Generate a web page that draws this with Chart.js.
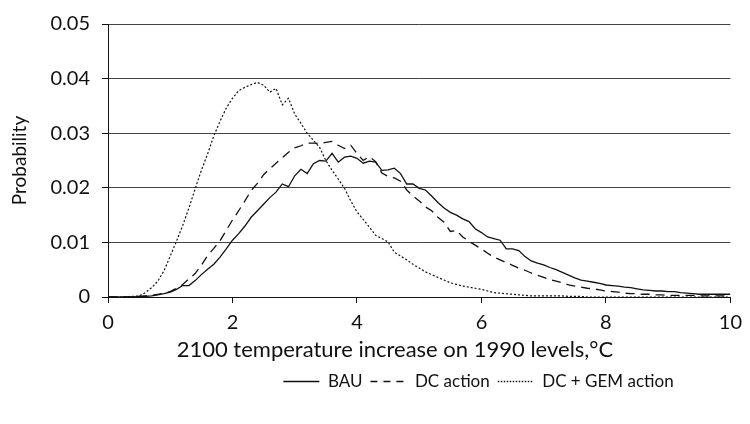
<!DOCTYPE html>
<html>
<head>
<meta charset="utf-8">
<script src="https://cdn.jsdelivr.net/npm/chart.js@4.4.1/dist/chart.umd.min.js"></script>
<style>
  html, body { margin: 0; padding: 0; background: #fff; }
  #wrap { width: 750px; height: 424px; }
</style>
</head>
<body>
<div id="wrap"><canvas id="chart" width="750" height="424"></canvas></div>
<script>
// temperature increase (deg C), one sample every 0.1
var temps = [];
for (var i = 0; i <= 100; i++) temps.push(i / 10);

var bau = [
  0, 0, 0, 0, 0, 0.0001, 0.0001, 0.0002, 0.0004, 0.0006,
  0.0009, 0.0014, 0.0021, 0.0021, 0.0030, 0.0041, 0.0051, 0.0060, 0.0073, 0.0088,
  0.0104, 0.0116, 0.0130, 0.0146, 0.0158, 0.0170, 0.0182, 0.0192, 0.0207, 0.0202,
  0.0222, 0.0234, 0.0226, 0.0244, 0.0250, 0.0249, 0.0263, 0.0247, 0.0256, 0.0258,
  0.0254, 0.0245, 0.0249, 0.0247, 0.0232, 0.0233, 0.0236, 0.0226, 0.0207, 0.0207,
  0.0199, 0.0196, 0.0185, 0.0173, 0.0163, 0.0155, 0.0150, 0.0143, 0.0138, 0.0125,
  0.0118, 0.0110, 0.0107, 0.0104, 0.0088, 0.0088, 0.0085, 0.0074, 0.0066, 0.0062,
  0.0059, 0.0054, 0.0050, 0.0045, 0.0040, 0.0035, 0.0031, 0.0029, 0.0027, 0.0025,
  0.0022, 0.0021, 0.0020, 0.0018, 0.0017, 0.0015, 0.0013, 0.0012, 0.0011, 0.0011,
  0.0010, 0.0010, 0.0008, 0.0007, 0.0006, 0.0005, 0.0005, 0.0005, 0.0005, 0.0005,
  0.0005
];

var dcAction = [
  0, 0, 0, 0, 0, 0.0001, 0.0002, 0.0003, 0.0005, 0.0007,
  0.0010, 0.0016, 0.0023, 0.0033, 0.0043, 0.0058, 0.0076, 0.0089, 0.0103, 0.0122,
  0.0141, 0.0158, 0.0176, 0.0195, 0.0208, 0.0224, 0.0235, 0.0245, 0.0255, 0.0265,
  0.0273, 0.0277, 0.0282, 0.0282, 0.0281, 0.0283, 0.0285, 0.0278, 0.0272, 0.0278,
  0.0263, 0.0250, 0.0257, 0.0248, 0.0227, 0.0221, 0.0218, 0.0212, 0.0196, 0.0185,
  0.0176, 0.0165, 0.0158, 0.0146, 0.0137, 0.0120, 0.0122, 0.0110, 0.0102, 0.0095,
  0.0088, 0.0080, 0.0073, 0.0068, 0.0063, 0.0058, 0.0053, 0.0049, 0.0044, 0.0040,
  0.0036, 0.0032, 0.0029, 0.0026, 0.0022, 0.0020, 0.0018, 0.0016, 0.0015, 0.0013,
  0.0011, 0.0010, 0.0009, 0.0007, 0.0006, 0.0006, 0.0005, 0.0005, 0.0004, 0.0004,
  0.0003, 0.0003, 0.0003, 0.0003, 0.0003, 0.0002, 0.0002, 0.0002, 0.0002, 0.0002,
  0.0002
];

var dcGemAction = [
  0, 0, 0, 0, 0.0001, 0.0002, 0.0008, 0.0017, 0.0029, 0.0048,
  0.0075, 0.0102, 0.0131, 0.0163, 0.0198, 0.0232, 0.0262, 0.0295, 0.0322, 0.0346,
  0.0364, 0.0378, 0.0384, 0.0389, 0.0393, 0.0388, 0.0375, 0.0382, 0.0352, 0.0364,
  0.0335, 0.0318, 0.0300, 0.0287, 0.0274, 0.0250, 0.0232, 0.0216, 0.0199, 0.0176,
  0.0156, 0.0142, 0.0128, 0.0113, 0.0107, 0.0101, 0.0082, 0.0075, 0.0068, 0.0060,
  0.0053, 0.0046, 0.0041, 0.0036, 0.0031, 0.0026, 0.0023, 0.0020, 0.0018, 0.0016,
  0.0014, 0.0011, 0.0008, 0.0007, 0.0006, 0.0005, 0.0004, 0.0003, 0.0002, 0.0002,
  0.0002, 0.0002, 0.0002, 0.0002, 0.0001, 0.0001, 0.0001, 0, 0, 0,
  0, 0, 0, 0, 0, 0, 0, 0, 0, 0,
  0, 0, 0, 0, 0, 0, 0, 0, 0, 0,
  0
];

var xTickLabels = ['0', '2', '4', '6', '8', '10'];
var yTickLabels = ['0', '0.01', '0.02', '0.03', '0.04', '0.05'];
var xTitle = '2100 temperature increase on 1990 levels,°C';

function toPoints(values) {
  return values.map(function (v, i) { return { x: temps[i], y: v }; });
}

var family = 'Lato, "DejaVu Sans", sans-serif';
var ink = '#111';

// the x caption sits a little left of the plot centre, the legend to the right
var captionPlugin = {
  id: 'xCaption',
  afterDraw: function (chart) {
    var c = chart.ctx, a = chart.chartArea;
    c.save();
    c.font = '22px ' + family;
    c.fillStyle = ink;
    c.textAlign = 'center';
    c.textBaseline = 'middle';
    c.fillText(xTitle, a.left + (a.right - a.left) * 0.461, a.bottom + 53);
    c.restore();
  }
};

var legendShift = {
  id: 'legendShift',
  afterUpdate: function (chart) {
    var lg = chart.legend;
    lg.left += 110;
    lg.right += 110;
  }
};

var ctx = document.getElementById('chart').getContext('2d');
var chart = new Chart(ctx, {
  type: 'line',
  data: {
    datasets: [
      {
        label: 'BAU',
        data: toPoints(bau),
        borderColor: ink,
        borderWidth: 1.3
      },
      {
        label: 'DC action',
        data: toPoints(dcAction),
        borderColor: ink,
        borderWidth: 1.3,
        borderDash: [9, 6]
      },
      {
        label: 'DC + GEM action',
        data: toPoints(dcGemAction),
        borderColor: ink,
        borderWidth: 1.2,
        borderDash: [2, 2]
      }
    ]
  },
  plugins: [captionPlugin, legendShift],
  options: {
    responsive: false,
    animation: false,
    events: [],
    elements: { point: { radius: 0 }, line: { tension: 0, fill: false } },
    layout: { padding: { top: 20, right: 13, bottom: 24, left: 0 } },
    plugins: {
      tooltip: { enabled: false },
      legend: {
        position: 'bottom',
        labels: {
          color: ink,
          font: { family: family, size: 17 },
          usePointStyle: true,
          pointStyle: 'line',
          pointStyleWidth: 36,
          padding: 8,
          generateLabels: function (chart) {
            var items = Chart.defaults.plugins.legend.labels.generateLabels(chart);
            var dashes = [[], [7, 6], [1.5, 1.5]];
            items.forEach(function (item, i) {
              item.lineDash = dashes[i];
              item.lineWidth = 1.3;
              item.strokeStyle = ink;
            });
            return items;
          }
        }
      }
    },
    scales: {
      x: {
        type: 'linear',
        min: 0,
        max: 10,
        afterFit: function (scale) { scale.height = 68; },
        ticks: {
          stepSize: 2,
          color: ink,
          font: { family: family, size: 20 },
          padding: 8,
          maxRotation: 0,
          callback: function (value) { return xTickLabels[value / 2]; }
        },
        grid: { drawOnChartArea: false, drawTicks: true, tickLength: 6, color: ink },
        border: { color: ink, width: 1 }
      },
      y: {
        min: 0,
        max: 0.05,
        afterFit: function (scale) { scale.width = 108; },
        ticks: {
          stepSize: 0.01,
          color: ink,
          font: { family: family, size: 20 },
          padding: 12,
          callback: function (value) { return yTickLabels[Math.round(value * 100)]; }
        },
        grid: { color: '#444', lineWidth: 1, tickLength: 6, tickColor: ink },
        border: { color: ink, width: 1 },
        title: {
          display: true,
          text: 'Probability',
          color: ink,
          font: { family: family, size: 19 },
          padding: { top: 8, bottom: 0 }
        }
      }
    }
  }
});
</script>
</body>
</html>
